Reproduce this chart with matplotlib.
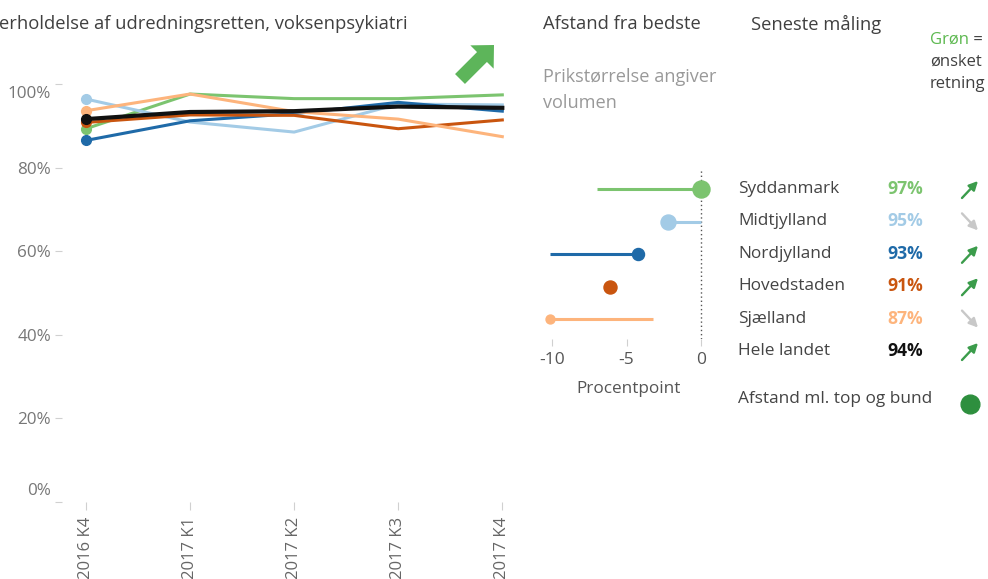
import matplotlib
matplotlib.use("Agg")
import matplotlib.pyplot as plt
import matplotlib.transforms as mtransforms
from matplotlib.patches import FancyArrow, FancyArrowPatch

plt.rcParams['font.family'] = ['Open Sans', 'DejaVu Sans']

# --- data ---
kvartaler = ['2016 K4', '2017 K1', '2017 K2', '2017 K3', '2017 K4']
regioner = ['Syddanmark', 'Midtjylland', 'Nordjylland', 'Hovedstaden', 'Sjælland']
syddanmark = [89.3, 97.6, 96.5, 96.5, 97.4]
midtjylland = [96.4, 90.9, 88.5, 95.2, 95.0]
nordjylland = [86.5, 91.2, 92.9, 95.6, 93.5]
hovedstaden = [90.8, 92.6, 92.5, 89.3, 91.4]
sjaelland = [93.6, 97.6, 93.4, 91.6, 87.4]
hele_landet = [91.6, 93.3, 93.5, 94.6, 94.3]

# distance from best region (percentage points), first and latest quarter
afstand_start = [-7.0, 0.0, -10.1, -6.1, -3.2]
afstand_nu = [0.0, -2.2, -4.2, -6.1, -10.1]
volumen = [290, 225, 145, 170, 80]

tabel_navne = ['Syddanmark', 'Midtjylland', 'Nordjylland', 'Hovedstaden', 'Sjælland', 'Hele landet']
seneste = [97, 95, 93, 91, 87, 94]
retning_op = [True, False, True, True, False, True]

farver = ['#7cc46f', '#a3cbe6', '#1f6aa8', '#c9550f', '#fdb47c', '#111111']
serier = [syddanmark, midtjylland, nordjylland, hovedstaden, sjaelland, hele_landet]

W, H = 988, 579


def rect(l, t, r, b):
    return [l / W, 1 - b / H, (r - l) / W, (b - t) / H]


fig = plt.figure(figsize=(W / 100, H / 100), dpi=100)
fig.patch.set_facecolor('white')

# --- line chart ---
ax = fig.add_axes(rect(62, 84, 520, 502))
x = list(range(len(kvartaler)))
for vals, c in zip(serier, farver):
    lw = 3.0 if c == '#111111' else 2.2
    ax.plot(x, vals, color=c, lw=lw, solid_joinstyle='round', zorder=3 if c == '#111111' else 2)
    ax.plot(x[0], vals[0], 'o', color=c, ms=7, zorder=3)
ax.set_ylim(0, 100)
ax.set_xlim(-0.23, 4.17)
ax.set_yticks([0, 20, 40, 60, 80, 100])
ax.set_yticklabels(['0%', '20%', '40%', '60%', '80%', '100%'])
ax.set_xticks(x)
ax.set_xticklabels(kvartaler, rotation=90, va='top')
for s in ax.spines.values():
    s.set_visible(False)
ax.tick_params(axis='y', length=5, width=0.8, color='#d0d0d0', labelcolor='#777777', labelsize=12.3, pad=3)
ax.tick_params(axis='x', length=5.5, width=0.8, color='#d0d0d0', labelcolor='#666666', labelsize=12, pad=5)
ylabs = ax.get_yticklabels()
ylabs[0].set_transform(ylabs[0].get_transform() + mtransforms.ScaledTranslation(0, 13 / 100, fig.dpi_scale_trans))
ylabs[-1].set_transform(ylabs[-1].get_transform() + mtransforms.ScaledTranslation(0, -8 / 100, fig.dpi_scale_trans))

# --- dot plot: distance from best ---
ad = fig.add_axes(rect(544.5, 169.5, 713, 338.5))
rows = list(range(len(regioner)))
for i in rows:
    ad.plot([afstand_start[i], afstand_nu[i]], [i, i], color=farver[i], lw=2.2, solid_capstyle='butt')
    ad.plot(afstand_nu[i], i, 'o', color=farver[i], ms=0.72 * volumen[i] ** 0.5, zorder=3)
ad.axvline(0, color='#555555', lw=1, ls=(0, (1, 2)), zorder=1)
ad.set_xlim(-10.5, 0.8)
ad.set_ylim(4.6, -0.6)
ad.set_yticks([])
ad.set_xticks([-10, -5, 0])
ad.set_xticklabels(['-10', '-5', '0'])
for s in ad.spines.values():
    s.set_visible(False)
ad.tick_params(axis='x', length=5, width=0.8, color='#d0d0d0', labelcolor='#555555', labelsize=12.5, pad=5)
ad.set_xlabel('Procentpoint', color='#555555', fontsize=12.3, labelpad=9)

# --- overlay for texts and table ---
ov = fig.add_axes([0, 0, 1, 1], zorder=-1)
ov.set_xlim(0, W)
ov.set_ylim(H, 0)
ov.axis('off')

# the reference shows the title cut at the left edge
ov.text(-1, 24, 'erholdelse af udredningsretten, voksenpsykiatri', ha='left', va='center',
        fontsize=13.2, color='#404040')
ov.text(543, 24, 'Afstand fra bedste', ha='left', va='center', fontsize=13.2, color='#404040')
ov.text(751, 24, 'Seneste måling', ha='left', va='center', fontsize=13.2, color='#404040')
ov.text(543, 77, 'Prikstørrelse angiver', ha='left', va='center', fontsize=13.1, color='#999999')
ov.text(543, 103, 'volumen', ha='left', va='center', fontsize=13.1, color='#999999')
t = ov.text(930, 40, 'Grøn', ha='left', va='center', fontsize=12, color='#5cb84f')
ov.annotate(' =', xycoords=t, xy=(1, 0.5), va='center', ha='left', fontsize=12, color='#404040')
ov.text(930, 62, 'ønsket', ha='left', va='center', fontsize=12, color='#404040')
ov.text(930, 84, 'retning', ha='left', va='center', fontsize=12, color='#404040')

ov.add_patch(FancyArrow(460, 79, 34, -34, width=14, head_width=33, head_length=17,
                        length_includes_head=True, color='#5db55a', lw=0))

row_y0, row_dy = 189, 32.4
for i, navn in enumerate(tabel_navne):
    y = row_y0 + i * row_dy
    ov.text(738, y, navn, ha='left', va='center', fontsize=12.4, color='#444444')
    ov.text(923, y, f'{seneste[i]}%', ha='right', va='center', fontsize=12.6, fontweight='bold', color=farver[i])
    if retning_op[i]:
        p0, p1, c = (962, y + 9), (978, y - 8), '#3b9c4b'
    else:
        p0, p1, c = (962, y - 8), (978, y + 9), '#c8c8c8'
    ov.add_patch(FancyArrowPatch(p0, p1, arrowstyle='-|>', mutation_scale=13, lw=1.7,
                                 color=c, shrinkA=0, shrinkB=0))

ov.text(738, 399, 'Afstand ml. top og bund', ha='left', va='center', fontsize=12.4, color='#444444')
ov.plot(970, 404, 'o', color='#2e8f3e', ms=13.5)

fig.savefig('out.png', dpi=100)
